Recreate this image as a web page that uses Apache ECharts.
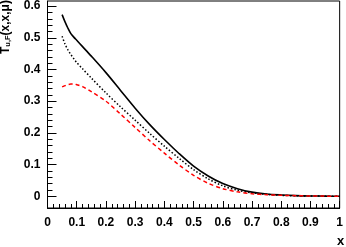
<!DOCTYPE html>
<html><head><meta charset="utf-8">
<script src="https://cdn.jsdelivr.net/npm/echarts@6/dist/echarts.min.js"></script>
<style>html,body{margin:0;padding:0;background:#fff}#c{width:346px;height:247px}</style>
</head><body><div id="c"></div>
<script>
const xValues = [0.05,0.06,0.07,0.08,0.09,0.1,0.12,0.15,0.2,0.25,0.3,0.35,0.4,0.45,0.5,0.55,0.6,0.65,0.7,0.75,0.8,0.85,0.9,0.95,1.0];
const solidValues = [0.573,0.55,0.53,0.513,0.502,0.492,0.472,0.442,0.39,0.334,0.278,0.226,0.179,0.135,0.095,0.064,0.04,0.024,0.013,0.007,0.004,0.002,0.001,0.0005,0];
const dottedValues = [0.505,0.48,0.462,0.447,0.434,0.422,0.402,0.373,0.326,0.282,0.24,0.198,0.158,0.12,0.084,0.055,0.033,0.019,0.011,0.006,0.003,0.0015,0.0008,0.0003,0];
const redValues = [0.345,0.349,0.352,0.354,0.354,0.352,0.346,0.33,0.3,0.259,0.217,0.175,0.136,0.099,0.066,0.041,0.024,0.014,0.008,0.005,0.003,0.002,0.001,0.0005,0];
const yMajorTicks = [0,0.1,0.2,0.3,0.4,0.5,0.6];
const yMinorTicks = [0,0.02,0.04,0.06,0.08,0.1,0.12,0.14,0.16,0.18,0.2,0.22,0.24,0.26,0.28,0.3,0.32,0.34,0.36,0.38,0.4,0.42,0.44,0.46,0.48,0.5,0.52,0.54,0.56,0.58,0.6];
const xTickLabels = ['0','0.1','0.2','0.3','0.4','0.5','0.6','0.7','0.8','0.9','1'];

const pairs = v => xValues.map((x,i)=>[x,v[i]]);
const font = 'Liberation Sans';
const chart = echarts.init(document.getElementById('c'));
chart.setOption({
  animation:false,
  grid:{left:47.5,right:1.5,top:1,bottom:39,show:true,borderColor:'#000',borderWidth:1},
  xAxis:{type:'value',min:0,max:1,interval:0.1,
    axisLine:{onZero:false,lineStyle:{color:'#000',width:1}},
    axisTick:{inside:true,length:7,lineStyle:{color:'#000'}},
    minorTick:{show:true,splitNumber:5,length:4,lineStyle:{color:'#000'}},
    splitLine:{show:false},
    axisLabel:{margin:9,color:'#000',fontFamily:font,fontWeight:'bold',fontSize:12,
      formatter:(v)=>xTickLabels[Math.round(v*10)]}},
  yAxis:[{type:'value',min:-0.037,max:0.616,
    axisLine:{onZero:false,lineStyle:{color:'#000',width:1}},
    axisTick:{inside:true,length:9,customValues:yMajorTicks,lineStyle:{color:'#000'}},
    splitLine:{show:false},
    axisLabel:{margin:7,color:'#000',fontFamily:font,fontWeight:'bold',fontSize:12,customValues:yMajorTicks,
      formatter:(v)=>v===0?'0':v.toFixed(1)}},
   {type:'value',min:-0.037,max:0.616,position:'left',
    axisLine:{show:false},
    axisTick:{show:true,inside:true,length:5,customValues:yMinorTicks,lineStyle:{color:'#000'}},
    axisLabel:{show:false},splitLine:{show:false}}],
  series:[
    {type:'line',data:pairs(solidValues),showSymbol:false,smooth:0.3,lineStyle:{color:'#000',width:1.6}},
    {type:'line',data:pairs(dottedValues),showSymbol:false,smooth:0.3,lineStyle:{color:'#000',width:1.5,type:[1.5,2]}},
    {type:'line',data:pairs(redValues),showSymbol:false,smooth:0.3,lineStyle:{color:'#ff0000',width:1.5,type:[4,3]}}
  ],
  graphic:[
    {type:'text',left:337,top:235,style:{text:'x',fontFamily:font,fontWeight:'bold',fontSize:13,fill:'#000'}},
    {type:'text',x:0,y:54,rotation:Math.PI/2,style:{
      text:'{t|T}{s|u,F}{t|(x,x,μ)}',
      rich:{t:{fontFamily:font,fontWeight:'bold',fontSize:12,fill:'#000'},
            s:{fontFamily:font,fontWeight:'bold',fontSize:7.5,fill:'#000',verticalAlign:'bottom',lineHeight:8,padding:[6,0,0,0]}}}}
  ]
});
</script></body></html>
